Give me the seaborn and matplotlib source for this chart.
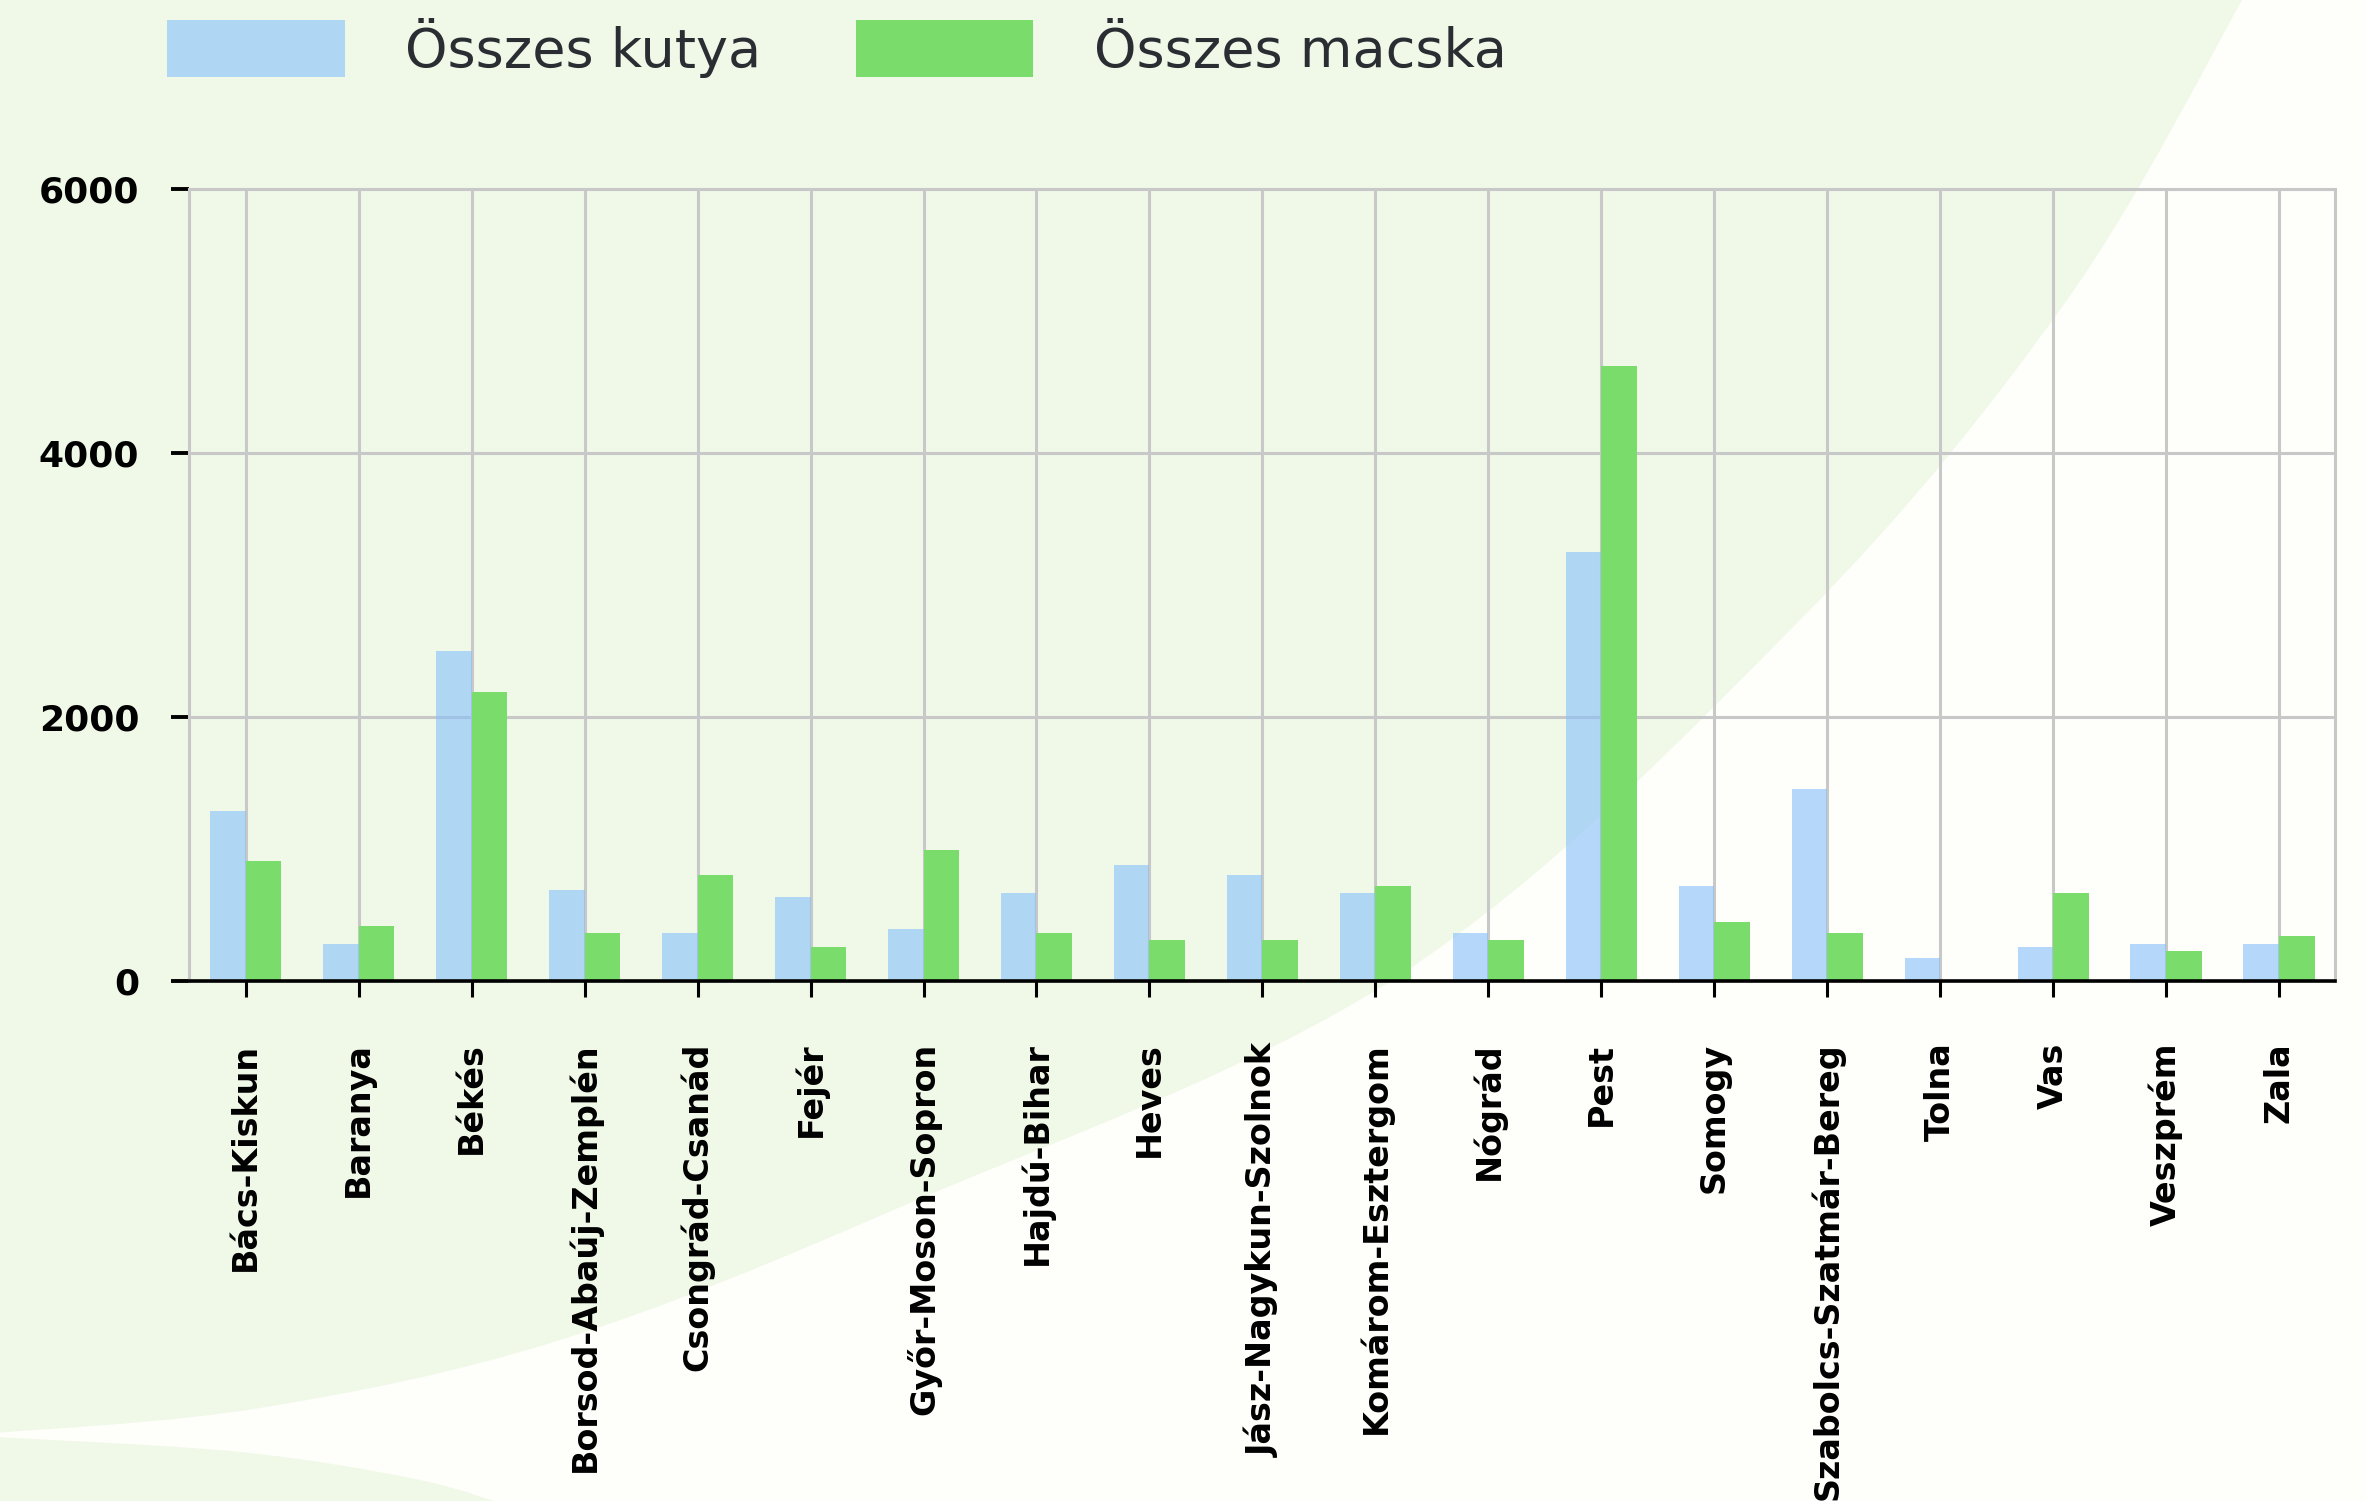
import numpy as np
import pandas as pd
import seaborn as sns
import matplotlib.pyplot as plt
from matplotlib.path import Path
from matplotlib.patches import PathPatch, Patch

sns.set_theme(style="whitegrid")
plt.rcParams['font.family'] = ['DejaVu Sans']

megyek = ["Bács-Kiskun", "Baranya", "Békés", "Borsod-Abaúj-Zemplén", "Csongrád-Csanád",
          "Fejér", "Győr-Moson-Sopron", "Hajdú-Bihar", "Heves", "Jász-Nagykun-Szolnok",
          "Komárom-Esztergom", "Nógrád", "Pest", "Somogy", "Szabolcs-Szatmár-Bereg",
          "Tolna", "Vas", "Veszprém", "Zala"]
kutya = [1285, 278, 2497, 687, 361, 634, 391, 664, 876, 800,
         664, 361, 3248, 717, 1452, 172, 255, 278, 278]
macska = [907, 414, 2187, 361, 800, 255, 990, 361, 308, 308,
          717, 308, 4657, 444, 361, 0, 664, 225, 338]
sorozatok = ["Összes kutya", "Összes macska"]

df = pd.DataFrame({
    "megye": megyek * 2,
    "tipus": [sorozatok[0]] * len(megyek) + [sorozatok[1]] * len(megyek),
    "darab": kutya + macska,
})

kek = (0.52, 0.75, 0.98)
zold = "#7adc6a"
W, H = 2366, 1501

fig = plt.figure(figsize=(W / 100, H / 100), dpi=100)
fig.patch.set_facecolor("#fefefa")


# hattér díszítés (a két zöld folt)
def folt(pontok, zaro):
    P = np.array(pontok, float)
    verts = [P[0]]
    codes = [Path.MOVETO]
    for i in range(len(P) - 1):
        p0 = P[i - 1] if i > 0 else P[i]
        p1, p2 = P[i], P[i + 1]
        p3 = P[i + 2] if i + 2 < len(P) else P[i + 1]
        verts += [p1 + (p2 - p0) / 6, p2 - (p3 - p1) / 6, p2]
        codes += [Path.CURVE4] * 3
    for z in zaro:
        verts.append(np.array(z, float))
        codes.append(Path.LINETO)
    verts.append(P[0])
    codes.append(Path.CLOSEPOLY)
    v = np.array(verts)
    v = np.column_stack([v[:, 0] / W, 1 - v[:, 1] / H])
    return PathPatch(Path(v, codes), facecolor="#f0f9e8", edgecolor="none",
                     transform=fig.transFigure, zorder=-5)


fig.add_artist(folt([(2245, -5), (2067, 300), (1800, 620), (1400, 975), (905, 1205),
                     (560, 1340), (260, 1408), (-5, 1433)], [(-5, -5)]))
fig.add_artist(folt([(-5, 1437), (240, 1452), (420, 1480), (520, 1510)], [(-5, 1510)]))

ax = fig.add_axes([0.0800, 0.3466, 0.9071, 0.5277])
ax.set_facecolor("none")

sns.barplot(data=df, x="megye", y="darab", hue="tipus", palette=[kek, zold],
            width=0.63, errorbar=None, saturation=1, linewidth=0, legend=False, ax=ax)
for p in ax.containers[0]:
    p.set_alpha(0.6)

ax.set_xlim(-0.5, len(megyek) - 0.5)
ax.set_ylim(0, 6000)
ax.set_yticks([0, 2000, 4000, 6000])
ax.set_axisbelow(True)
ax.grid(True, color="#c8c8c8", linewidth=2.2)
ax.set_xlabel("")
ax.set_ylabel("")

for s in ["left", "top", "right"]:
    ax.spines[s].set_color("#c8c8c8")
    ax.spines[s].set_linewidth(2.2)
ax.spines["bottom"].set_color("black")
ax.spines["bottom"].set_linewidth(2.6)

ax.tick_params(axis="y", left=True, length=13, width=2.8, color="black", pad=23,
               labelsize=26, labelcolor="black")
ax.tick_params(axis="x", bottom=True, length=11.5, width=2.2, color="black", pad=33,
               labelsize=24, labelcolor="black")
plt.setp(ax.get_xticklabels(), rotation=90, fontweight="bold")
plt.setp(ax.get_yticklabels(), fontweight="bold")

kezelok = [Patch(facecolor=kek, alpha=0.6, edgecolor="none"),
           Patch(facecolor=zold, edgecolor="none")]
fig.legend(kezelok, sorozatok, loc="upper left", bbox_to_anchor=(0.0706, 0.988),
           ncol=2, frameon=False, fontsize=39, labelcolor="#2a2e33",
           handlelength=3.28, handleheight=1.24, handletextpad=1.11,
           columnspacing=1.75, borderpad=0, borderaxespad=0)

fig.savefig("out.png", dpi=100)
